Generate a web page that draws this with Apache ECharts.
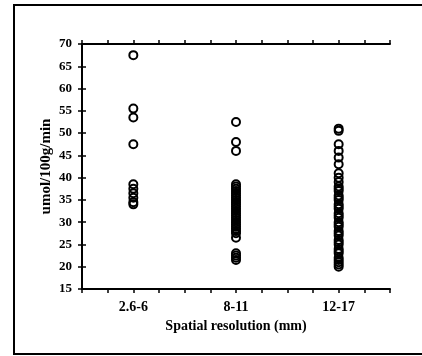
<!DOCTYPE html>
<html lang="en">

<head>
    <meta charset="UTF-8">
    <title>Spatial resolution</title>
    <script src="https://cdn.jsdelivr.net/npm/echarts@6/dist/echarts.min.js"></script>
    <style>
        html, body {
            margin: 0;
            padding: 0;
            background: #fff;
        }
        #chart {
            width: 422px;
            height: 356px;
        }
    </style>
</head>

<body>
    <div id="chart"></div>

    <script>
        // groups along x
        var categories = ['2.6-6', '8-11', '12-17'];
        // umol/100g/min, one list per group
        var group1 = [67.5, 55.5, 53.5, 47.5, 38.5, 37.5, 36.5, 35.5, 34.5, 34];
        var group2 = [52.5, 48, 46, 38.5, 38, 37.5, 37, 36.5, 36, 35.5, 35, 34.5, 34, 33.5, 33, 32.5,
            32, 31.5, 31, 30.5, 30, 29.5, 29, 28.5, 28, 27.5, 26.5, 23, 22.5, 22, 21.5];
        var group3 = [51, 50.5, 47.5, 46, 44.5, 43, 41, 40, 39, 38, 37.5, 37, 36, 35.5, 35, 34, 33.5,
            33, 32, 31.5, 31, 30, 29.5, 29, 28, 27.5, 27, 26, 25.5, 25, 24, 23.5, 23, 22, 21.5, 21, 20.5, 20];
        var yTicks = [15, 20, 25, 30, 35, 40, 45, 50, 55, 60, 65, 70];

        var groups = [group1, group2, group3];
        // each group sits in the middle of its band, bands split in 4 ticks
        var points = [];
        groups.forEach(function (g, i) {
            g.forEach(function (v) {
                points.push([2 + 4 * i, v]);
            });
        });

        var font = 'Liberation Serif';
        var chart = echarts.init(document.getElementById('chart'));
        var tickStyle = { show: true, inside: false, length: 4, lineStyle: { color: '#000', width: 1.5 } };
        var lineStyle = { show: true, lineStyle: { color: '#000', width: 2 } };

        var option = {
            animation: false,
            backgroundColor: '#fff',
            grid: { left: 82, right: 32, top: 44, bottom: 67 },
            graphic: [{
                type: 'rect',
                shape: { x: 14, y: 5, width: 420, height: 349 },
                style: { fill: 'none', stroke: '#000', lineWidth: 2 }
            }],
            xAxis: [{
                type: 'value',
                min: 0,
                max: 12,
                interval: 1,
                position: 'bottom',
                axisLine: lineStyle,
                axisTick: tickStyle,
                splitLine: { show: false },
                axisLabel: {
                    margin: 11,
                    color: '#000',
                    fontFamily: font,
                    fontWeight: 'bold',
                    fontSize: 14,
                    formatter: function (v) {
                        return (v - 2) % 4 === 0 ? categories[(v - 2) / 4] : '';
                    }
                },
                name: 'Spatial resolution (mm)',
                nameLocation: 'middle',
                nameGap: 27,
                nameTextStyle: { color: '#000', fontFamily: font, fontWeight: 'bold', fontSize: 14 }
            }, {
                type: 'value',
                min: 0,
                max: 12,
                interval: 1,
                position: 'top',
                axisLine: lineStyle,
                axisTick: tickStyle,
                axisLabel: { show: false },
                splitLine: { show: false }
            }],
            yAxis: [{
                type: 'value',
                min: yTicks[0],
                max: yTicks[yTicks.length - 1],
                interval: 5,
                axisLine: lineStyle,
                axisTick: tickStyle,
                splitLine: { show: false },
                axisLabel: {
                    margin: 10,
                    color: '#000',
                    fontFamily: font,
                    fontWeight: 'bold',
                    fontSize: 13
                },
                name: 'umol/100g/min',
                nameLocation: 'middle',
                nameGap: 28,
                nameMoveOverlap: false,
                nameRotate: 90,
                nameTextStyle: { color: '#000', fontFamily: font, fontWeight: 'bold', fontSize: 15 }
            }, {
                type: 'value',
                min: yTicks[0],
                max: yTicks[yTicks.length - 1],
                interval: 5,
                position: 'right',
                axisLine: lineStyle,
                axisTick: tickStyle,
                axisLabel: { show: false },
                splitLine: { show: false }
            }],
            series: [{
                type: 'scatter',
                data: points,
                symbol: 'circle',
                symbolSize: 8,
                itemStyle: {
                    color: 'rgba(0,0,0,0)',
                    borderColor: '#000',
                    borderWidth: 2,
                    opacity: 1
                }
            }]
        };

        chart.setOption(option);
    </script>
</body>

</html>
